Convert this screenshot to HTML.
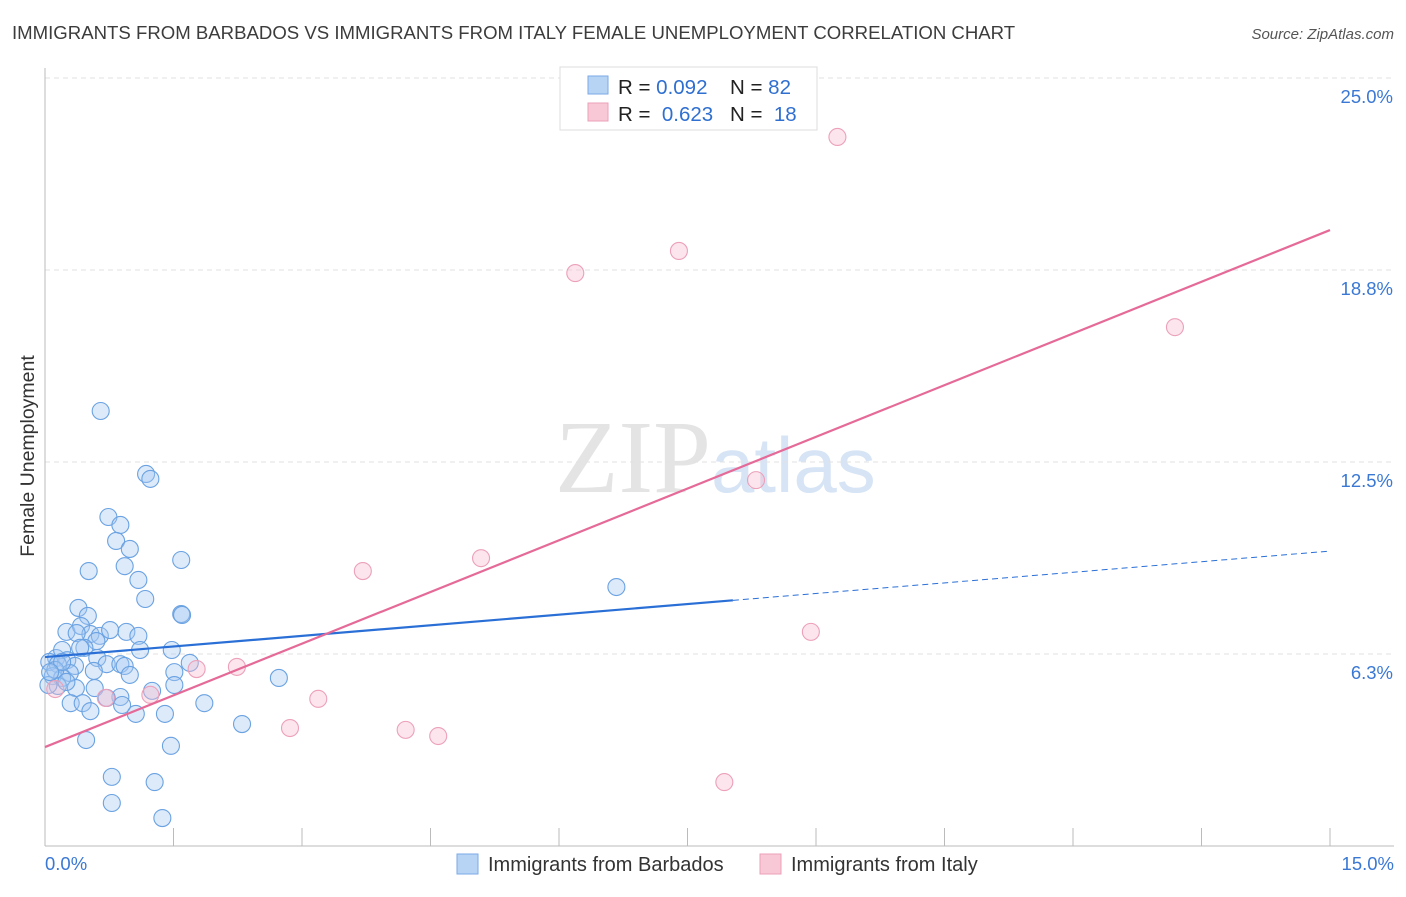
<!DOCTYPE html>
<html><head><meta charset="utf-8"><style>
body{margin:0;background:#fff;font-family:"Liberation Sans",sans-serif;}
svg text{font-family:"Liberation Sans",sans-serif;}
</style></head><body>
<svg id="chart" width="1406" height="892">
<text x="12" y="39" font-size="18.6" fill="#3c3c3c">IMMIGRANTS FROM BARBADOS VS IMMIGRANTS FROM ITALY FEMALE UNEMPLOYMENT CORRELATION CHART</text>
<text x="1394" y="39" font-size="15" fill="#555" font-style="italic" text-anchor="end">Source: ZipAtlas.com</text>
<text x="555" y="492" font-size="104" fill="#e4e4e4" font-family="Liberation Serif"><tspan font-family="Liberation Serif">ZIP</tspan><tspan fill="#d6e4f5" font-family="Liberation Sans" font-size="78">atlas</tspan></text>
<text transform="translate(34,456) rotate(-90)" font-size="19.5" fill="#333" text-anchor="middle">Female Unemployment</text>
<g id="grid"></g><g id="marks"></g>
<g>
<rect x="560" y="67" width="257" height="63" fill="#fff" stroke="#ddd"/>
<rect x="588" y="76" width="20" height="18" fill="#b8d4f5" stroke="#7aaae6"/>
<rect x="588" y="103" width="20" height="18" fill="#f9c8d6" stroke="#eba0b8"/>
<text x="618" y="94" font-size="20.5" fill="#222" xml:space="preserve">R = <tspan fill="#2f6fd0">0.092</tspan><tspan x="730">N = </tspan><tspan fill="#2f6fd0">82</tspan></text>
<text x="618" y="121" font-size="20.5" fill="#222" xml:space="preserve">R =  <tspan fill="#2f6fd0">0.623</tspan><tspan x="730">N =  </tspan><tspan fill="#2f6fd0">18</tspan></text>
</g>
<g>
<rect x="457" y="854" width="21" height="20" fill="#b8d4f5" stroke="#7aaae6"/>
<text x="488" y="871" font-size="20" fill="#333">Immigrants from Barbados</text>
<rect x="760" y="854" width="21" height="20" fill="#f9c8d6" stroke="#eba0b8"/>
<text x="791" y="871" font-size="20" fill="#333">Immigrants from Italy</text>
</g>
</svg>
<script>
const yTicks=[6.25,12.5,18.75,25];
const yTickLabels=["6.3%","12.5%","18.8%","25.0%"];
const xTickCount=10;
const xLabels=["0.0%","15.0%"];
const blueX=[0.65,1.18,1.23,0.74,0.88,0.83,0.99,0.51,0.93,1.09,1.59,1.17,0.39,0.50,1.59,1.60,0.25,0.42,0.53,0.64,0.95,1.09,0.37,0.60,0.46,1.11,1.48,0.13,0.20,0.26,0.61,0.72,0.88,0.93,1.69,0.05,0.15,0.35,0.29,0.57,0.99,1.51,2.73,0.09,0.20,0.36,0.58,1.25,0.88,0.72,0.15,0.04,1.51,0.30,0.44,1.86,0.90,0.53,1.06,1.40,2.30,0.48,1.47,0.78,1.28,0.78,1.37,6.67,0.12,0.20,0.06,0.25,0.41,0.76];
const blueY=[14.16,12.11,11.95,10.71,10.45,9.93,9.67,8.95,9.11,8.66,9.31,8.04,7.75,7.49,7.55,7.52,6.97,7.16,6.90,6.84,6.97,6.84,6.93,6.67,6.45,6.38,6.38,6.12,6.38,6.05,6.12,5.92,5.92,5.86,5.96,5.99,5.92,5.86,5.63,5.70,5.57,5.66,5.47,5.53,5.47,5.14,5.14,5.05,4.85,4.82,5.21,5.24,5.24,4.65,4.65,4.65,4.59,4.39,4.30,4.30,3.97,3.45,3.26,2.25,2.08,1.40,0.91,8.43,5.73,5.99,5.66,5.34,6.45,7.03];
const pinkX=[9.25,7.40,6.19,13.19,8.30,5.09,3.71,8.94,1.77,2.24,3.19,2.86,4.21,4.59,7.93,0.71,1.23,0.12];
const pinkY=[23.08,19.37,18.65,16.89,11.91,9.37,8.95,6.97,5.76,5.83,4.79,3.84,3.78,3.58,2.08,4.82,4.92,5.11];
const blueTrend=[6.15,9.60];const blueSolidEnd=8.03;
const pinkTrend=[3.22,20.05];
const X0=45,X1=1330,XMAX=15;
const sx=v=>X0+v/XMAX*(X1-X0);
const syy=v=>846-v*30.72;
const NS="http://www.w3.org/2000/svg";
function mk(tag,attrs,parent){const e=document.createElementNS(NS,tag);for(const k in attrs)e.setAttribute(k,attrs[k]);parent.appendChild(e);return e;}
const grid=document.getElementById('grid'),marks=document.getElementById('marks');
yTicks.forEach((t,i)=>{
  const g=mk('line',{x1:45,x2:1394,y1:syy(t),y2:syy(t),stroke:'#e2e2e2','stroke-dasharray':'5,4'},grid);
  
  
  const tx=mk('text',{x:1393,y:syy(t)+25,'font-size':18.5,fill:'#3a78d4','text-anchor':'end'},grid);
  tx.textContent=yTickLabels[i];
  
  
});
const ax=mk('line',{x1:45,x2:45,y1:68,y2:846,stroke:'#bbb'},grid);


const bx=mk('line',{x1:45,x2:1394,y1:846,y2:846,stroke:'#bbb'},grid);


for(let i=1;i<=xTickCount;i++){
  const v=XMAX*i/xTickCount;
  const t=mk('line',{x1:sx(v),x2:sx(v),y1:828,y2:846,stroke:'#bbb'},grid);
  
  
}
[[0,'start',45],[15,'end',1394]].forEach((d,i)=>{
  const t=mk('text',{x:d[2],y:870,'font-size':18.5,fill:'#3a78d4','text-anchor':d[1]},grid);
  t.textContent=xLabels[i];
  
  
});
blueX.forEach((x,i)=>{
  const c=mk('circle',{cx:sx(x),cy:syy(blueY[i]),r:8.5,fill:'rgba(165,200,242,0.38)',stroke:'#6aa2e2','stroke-width':1.1},marks);
  
  
});
pinkX.forEach((x,i)=>{
  const c=mk('circle',{cx:sx(x),cy:syy(pinkY[i]),r:8.5,fill:'rgba(246,186,205,0.38)',stroke:'#eca0ba','stroke-width':1.1},marks);
  
  
});
const by=v=>blueTrend[0]+(blueTrend[1]-blueTrend[0])*v/XMAX;
const l1=mk('line',{x1:sx(0),y1:syy(by(0)),x2:sx(blueSolidEnd),y2:syy(by(blueSolidEnd)),stroke:'#2a6fd6','stroke-width':2.2},marks);


const l2=mk('line',{x1:sx(blueSolidEnd),y1:syy(by(blueSolidEnd)),x2:sx(XMAX),y2:syy(by(XMAX)),stroke:'#2a6fd6','stroke-width':1,'stroke-dasharray':'6,4'},marks);


const l3=mk('line',{x1:sx(0),y1:syy(pinkTrend[0]),x2:sx(XMAX),y2:syy(pinkTrend[1]),stroke:'#e56a98','stroke-width':2.2},marks);


</script>
</body></html>
